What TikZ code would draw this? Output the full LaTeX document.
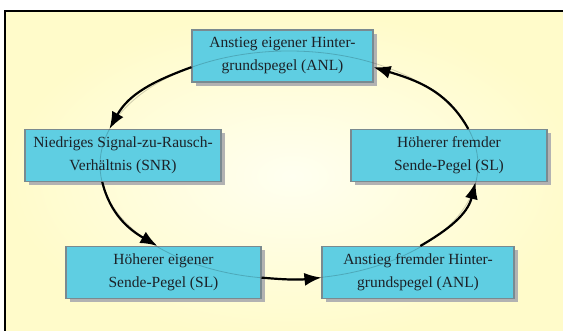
\documentclass[tikz,border=0pt]{standalone}
\usepackage{fontspec}
\setmainfont{Liberation Serif}
\usetikzlibrary{arrows.meta,shadows}
\definecolor{boxcyan}{HTML}{5FCEE2}
\definecolor{boxline}{HTML}{7A8A90}
\definecolor{bgin}{HTML}{FFFFF0}
\definecolor{bgout}{HTML}{FFFBCA}
\definecolor{txt}{HTML}{1C2228}
\begin{document}
\begin{tikzpicture}[x=1pt,y=1pt,
  box/.style={draw=boxline, line width=1.1pt, fill=boxcyan, align=center,
    font=\fontsize{15.5}{23}\selectfont, text=txt, inner sep=0pt,
    minimum height=52pt,
    drop shadow={shadow xshift=4pt, shadow yshift=-4pt, fill=black!30, opacity=1}},
  conn/.style={line width=2.2pt, -{Latex[length=17pt,width=13pt]}}]
\useasboundingbox (0,0) rectangle (563,331);
\fill[white] (0,0) rectangle (563,331);
\shade[inner color=bgin, outer color=bgout] (5,-10) rectangle (580,320);
\draw[line width=1.5pt] (5,-10) -- (5,320) -- (580,320);

\node[box, minimum width=181pt] (top) at (282.5,275) {Anstieg eigener Hinter-\\grundspegel (ANL)};
\node[box, minimum width=196pt] (left) at (123,175.5) {Niedriges Signal-zu-Rausch-\\Verhältnis (SNR)};
\node[box, minimum width=196pt] (right) at (449,175.5) {Höherer fremder\\Sende-Pegel (SL)};
\node[box, minimum width=195pt] (bl) at (163.5,58.5) {Höherer eigener\\Sende-Pegel (SL)};
\node[box, minimum width=192pt] (br) at (418,58.5) {Anstieg fremder Hinter-\\grundspegel (ANL)};

\draw[conn] (top.187) to[out=200,in=61] (left.117);
\draw[conn] (left.232) to[out=284,in=150] (bl.103);
\draw[conn] (bl.357) to[out=-5,in=186] (br.183);
\draw[conn] (br.85) to[out=30,in=256] (right.315);
\draw[conn] (right.54) to[out=119,in=343] (top.353);

\draw[black, opacity=0.18, line width=0.8pt] (289,166) ellipse [x radius=189, y radius=114];
\end{tikzpicture}
\end{document}
